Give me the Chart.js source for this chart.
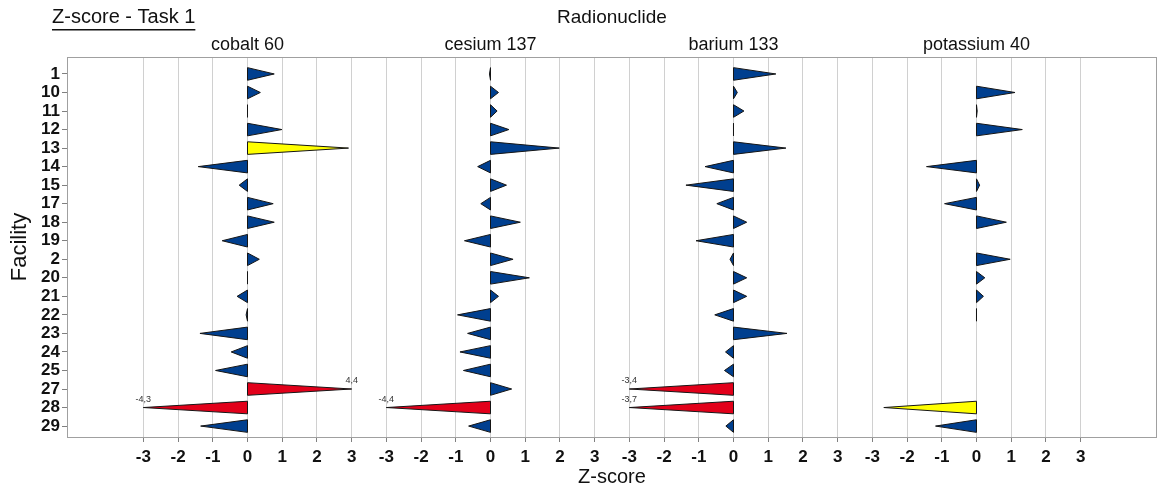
<!DOCTYPE html>
<html>
<head>
<meta charset="utf-8">
<script src="https://cdn.jsdelivr.net/npm/chart.js@4.4.0/dist/chart.umd.min.js"></script>
<style>
  html, body { margin: 0; padding: 0; background: #fff; }
</style>
</head>
<body>
<canvas id="grafico" width="1162" height="493"></canvas>
<script>
//--------------------------------------------------
// DATA
//--------------------------------------------------

const facilities = ['1', '10', '11', '12', '13', '14', '15', '17', '18', '19',
                    '2', '20', '21', '22', '23', '24', '25', '27', '28', '29'];

const nuclides = ['cobalt 60', 'cesium 137', 'barium 133', 'potassium 40'];

const cobalt60    = [0.77, 0.37, 0.00, 0.99, 2.91, -1.42, -0.24, 0.74, 0.77, -0.73,
                     0.34, 0.00, -0.30, -0.04, -1.37, -0.47, -0.92, 4.4, -4.3, -1.35];
const cesium137   = [-0.03, 0.23, 0.19, 0.53, 1.98, -0.37, 0.46, -0.28, 0.86, -0.75,
                     0.65, 1.12, 0.23, -0.95, -0.66, -0.88, -0.78, 0.61, -4.4, -0.63];
const barium133   = [1.22, 0.11, 0.30, 0.00, 1.51, -0.82, -1.37, -0.48, 0.38, -1.08,
                     -0.10, 0.38, 0.38, -0.54, 1.54, -0.23, -0.26, -3.4, -3.7, -0.22];
const potassium40 = [null, 1.11, 0.02, 1.32, null, -1.44, 0.09, -0.92, 0.86, null,
                     0.97, 0.24, 0.20, 0.00, null, null, null, null, -2.67, -1.18];

const series = [cobalt60, cesium137, barium133, potassium40];

const zTicks = [-3, -2, -1, 0, 1, 2, 3];

//--------------------------------------------------
// SETTINGS
//--------------------------------------------------

const PANEL    = 7;      // width of one panel in z units
const LIMIT    = 3;      // bars are cut at +/-3
const HALF     = 0.34;   // half thickness of the wedge base
const FONT     = 'Liberation Sans, Arial, sans-serif';

function corBarra(v) {
  const a = Math.abs(v);
  if (a >= 3) return '#E2001A';
  if (a >= 2) return '#FFFF00';
  return '#003F8F';
}

//--------------------------------------------------
// DATASETS (one per radionuclide, the tip of each wedge)
//--------------------------------------------------

const datasets = series.map((valores, p) => ({
  label: nuclides[p],
  data: valores
    .map((v, i) => v === null ? null : {
      x: p * PANEL + Math.max(-LIMIT, Math.min(LIMIT, v)),
      y: i,
      z: v
    })
    .filter(d => d !== null),
  pointRadius: 0,
  pointHoverRadius: 0,
  showLine: false
}));

const allTicks = [];
nuclides.forEach((n, p) => zTicks.forEach(t => allTicks.push(p * PANEL + t)));

//--------------------------------------------------
// PLUGIN: WEDGES, FRAME AND TEXTS
//--------------------------------------------------

const wedges = {
  id: 'wedges',
  afterDatasetsDraw(chart) {
    const { ctx, scales: { x, y } } = chart;
    ctx.save();
    chart.data.datasets.forEach((ds, p) => {
      const x0 = x.getPixelForValue(p * PANEL);
      ds.data.forEach(d => {
        const xt = x.getPixelForValue(d.x);
        const yc = y.getPixelForValue(d.y);
        const h  = Math.abs(y.getPixelForValue(d.y + HALF) - yc);

        ctx.beginPath();
        ctx.moveTo(x0, yc - h);
        ctx.lineTo(xt, yc);
        ctx.lineTo(x0, yc + h);
        ctx.closePath();
        ctx.fillStyle = corBarra(d.z);
        ctx.fill();
        ctx.lineWidth = 1;
        ctx.strokeStyle = '#151515';
        ctx.stroke();

        if (Math.abs(d.z) > LIMIT) {
          ctx.font = '9px ' + FONT;
          ctx.fillStyle = '#333';
          ctx.textAlign = 'center';
          ctx.textBaseline = 'middle';
          ctx.fillText(String(d.z).replace('.', ','), xt, yc - 8);
        }
      });
    });
    ctx.restore();
  },
  afterDraw(chart) {
    const { ctx, chartArea: { left, right, top, bottom }, scales: { x } } = chart;
    ctx.save();

    // frame
    ctx.strokeStyle = '#A0A0A0';
    ctx.lineWidth = 1;
    ctx.strokeRect(left + 0.5, top + 0.5, right - left - 1, bottom - top);

    ctx.fillStyle = '#111';
    ctx.textBaseline = 'middle';

    // title
    ctx.font = '20px ' + FONT;
    ctx.textAlign = 'left';
    ctx.fillText('Z-score - Task 1', 52, 17);
    const w = ctx.measureText('Z-score - Task 1').width;
    ctx.fillRect(52, 29, w, 1.5);

    // facet header
    ctx.textAlign = 'center';
    ctx.font = '19px ' + FONT;
    ctx.fillText('Radionuclide', (left + right) / 2, 18);

    ctx.font = '18px ' + FONT;
    nuclides.forEach((n, p) => {
      ctx.fillText(n, x.getPixelForValue(p * PANEL), 45);
    });

    // axis titles
    ctx.font = '20px ' + FONT;
    ctx.fillText('Z-score', (left + right) / 2, 477);

    ctx.save();
    ctx.translate(20, (top + bottom) / 2);
    ctx.rotate(-Math.PI / 2);
    ctx.font = '22px ' + FONT;
    ctx.fillText('Facility', 0, 0);
    ctx.restore();

    ctx.restore();
  }
};

//--------------------------------------------------
// CHART
//--------------------------------------------------

new Chart(document.getElementById('grafico'), {
  type: 'scatter',
  data: { datasets },
  options: {
    responsive: false,
    animation: false,
    layout: { padding: { top: 57, right: 5, left: 0, bottom: 0 } },
    plugins: {
      legend: { display: false },
      tooltip: { enabled: false }
    },
    scales: {
      x: {
        type: 'linear',
        min: -5.2,
        max: 3 * PANEL + 5.2,
        afterBuildTicks(scale) {
          scale.ticks = allTicks.map(v => ({ value: v }));
        },
        afterFit(scale) { scale.height = 56; },
        border: { display: false },
        grid: { color: '#D0D0D0', tickColor: '#808080', tickLength: 5, lineWidth: 1 },
        ticks: {
          autoSkip: false,
          maxRotation: 0,
          padding: 5,
          color: '#111',
          font: { family: FONT, size: 17, weight: 'bold' },
          callback: v => String(v - Math.round(v / PANEL) * PANEL)
        }
      },
      y: {
        type: 'linear',
        reverse: true,
        min: -0.915,
        max: 19.59,
        afterBuildTicks(scale) {
          scale.ticks = facilities.map((f, i) => ({ value: i }));
        },
        afterFit(scale) { scale.width = 67; },
        border: { display: false },
        grid: { drawOnChartArea: false, tickColor: '#808080', tickLength: 5 },
        ticks: {
          autoSkip: false,
          padding: 2,
          color: '#111',
          font: { family: FONT, size: 17, weight: 'bold' },
          callback: v => facilities[v]
        }
      }
    }
  },
  plugins: [wedges]
});
</script>
</body>
</html>
